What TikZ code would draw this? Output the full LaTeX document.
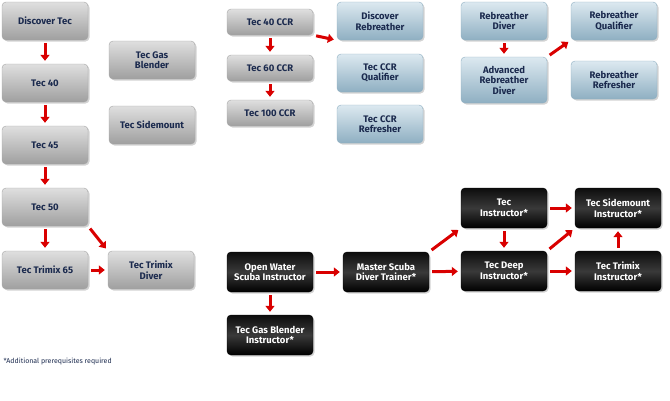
\documentclass[tikz,border=0pt]{standalone}
\usepackage{fontspec}
\setmainfont{Fira Sans}
\usetikzlibrary{arrows.meta,shadows}
\definecolor{navy}{HTML}{1B2A4E}
\definecolor{ltop}{HTML}{DCE9F0}
\definecolor{lbot}{HTML}{8FAFC2}
\begin{document}
\begin{tikzpicture}[x=1pt,y=-1pt,
  box/.style={rounded corners=4pt,minimum width=86pt,minimum height=38pt,align=center,
    font=\fontsize{9.5}{10.5}\selectfont\bfseries,text=navy,draw=gray!70,
    top color=gray!25,bottom color=gray!75,drop shadow={shadow xshift=1.5pt,shadow yshift=-1.5pt,opacity=.35}},
  sbox/.style={box,minimum height=26pt},
  bbox/.style={box,draw=black,text=white,top color=gray!10!black,bottom color=black,middle color=gray!45!black,minimum height=40pt},
  lbox/.style={box,draw=lbot,top color=ltop,bottom color=lbot},
  ar/.style={-{Triangle[length=6pt,width=9pt]},line width=3pt,red!85!black,shorten >=3pt,shorten <=3pt}]
\useasboundingbox (0,0) rectangle (670,400);
\node[box] (dt) at (45,21) {Discover Tec};
\node[box] (t40) at (45,83) {Tec 40};
\node[box] (t45) at (45,145) {Tec 45};
\node[box] (t50) at (45,207) {Tec 50};
\node[box] (t65) at (45,270) {Tec Trimix 65};
\node[box] (ttd) at (151,270) {Tec Trimix\\Diver};
\node[box] (tgb) at (152,60) {Tec Gas\\Blender};
\node[box] (tsm) at (152,125) {Tec Sidemount};
\node[sbox] (c40) at (270,22) {Tec 40 CCR};
\node[sbox] (c60) at (270,68) {Tec 60 CCR};
\node[sbox] (c100) at (270,113) {Tec 100 CCR};
\node[lbox] (drb) at (380,21) {Discover\\Rebreather};
\node[lbox] (ccq) at (380,73) {Tec CCR\\Qualifier};
\node[lbox] (ccr) at (380,124) {Tec CCR\\Refresher};
\node[lbox] (rd) at (504,21) {Rebreather\\Diver};
\node[lbox,minimum height=46pt] (ard) at (504,80) {Advanced\\Rebreather\\Diver};
\node[lbox] (rq) at (614,21) {Rebreather\\Qualifier};
\node[lbox] (rr) at (614,80) {Rebreather\\Refresher};
\node[bbox] (owsi) at (270,272) {Open Water\\Scuba Instructor};
\node[bbox] (tgbi) at (270,335) {Tec Gas Blender\\Instructor*};
\node[bbox] (msdt) at (386,272) {Master Scuba\\Diver Trainer*};
\node[bbox] (ti) at (504,208) {Tec\\Instructor*};
\node[bbox] (tdi) at (504,271) {Tec Deep\\Instructor*};
\node[bbox] (tsi) at (618,208) {Tec Sidemount\\Instructor*};
\node[bbox] (tti) at (618,271) {Tec Trimix\\Instructor*};
\node[anchor=west,font=\fontsize{7}{8}\selectfont,text=navy] (fn) at (0,362) {*Additional prerequisites required};
\draw[ar] (dt) -- (t40);
\draw[ar] (t40) -- (t45);
\draw[ar] (t45) -- (t50);
\draw[ar] (t50) -- (t65);
\draw[ar] (t65) -- (ttd);
\draw[ar] (t50.south east) -- (ttd.north west);
\draw[ar] (c40) -- (c60);
\draw[ar] (c60) -- (c100);
\draw[ar] (c40.south east) -- (drb.south west);
\draw[ar] (rd) -- (ard);
\draw[ar] (ard.north east) -- (rq.south west);
\draw[ar] (owsi) -- (msdt);
\draw[ar] (owsi) -- (tgbi);
\draw[ar] (msdt) -- (tdi);
\draw[ar] (msdt.north east) -- (ti.south west);
\draw[ar] (ti) -- (tsi);
\draw[ar] (ti) -- (tdi);
\draw[ar] (tdi) -- (tti);
\draw[ar] (tdi.north east) -- (tsi.south west);
\draw[ar] (tti) -- (tsi);
\end{tikzpicture}
\end{document}
